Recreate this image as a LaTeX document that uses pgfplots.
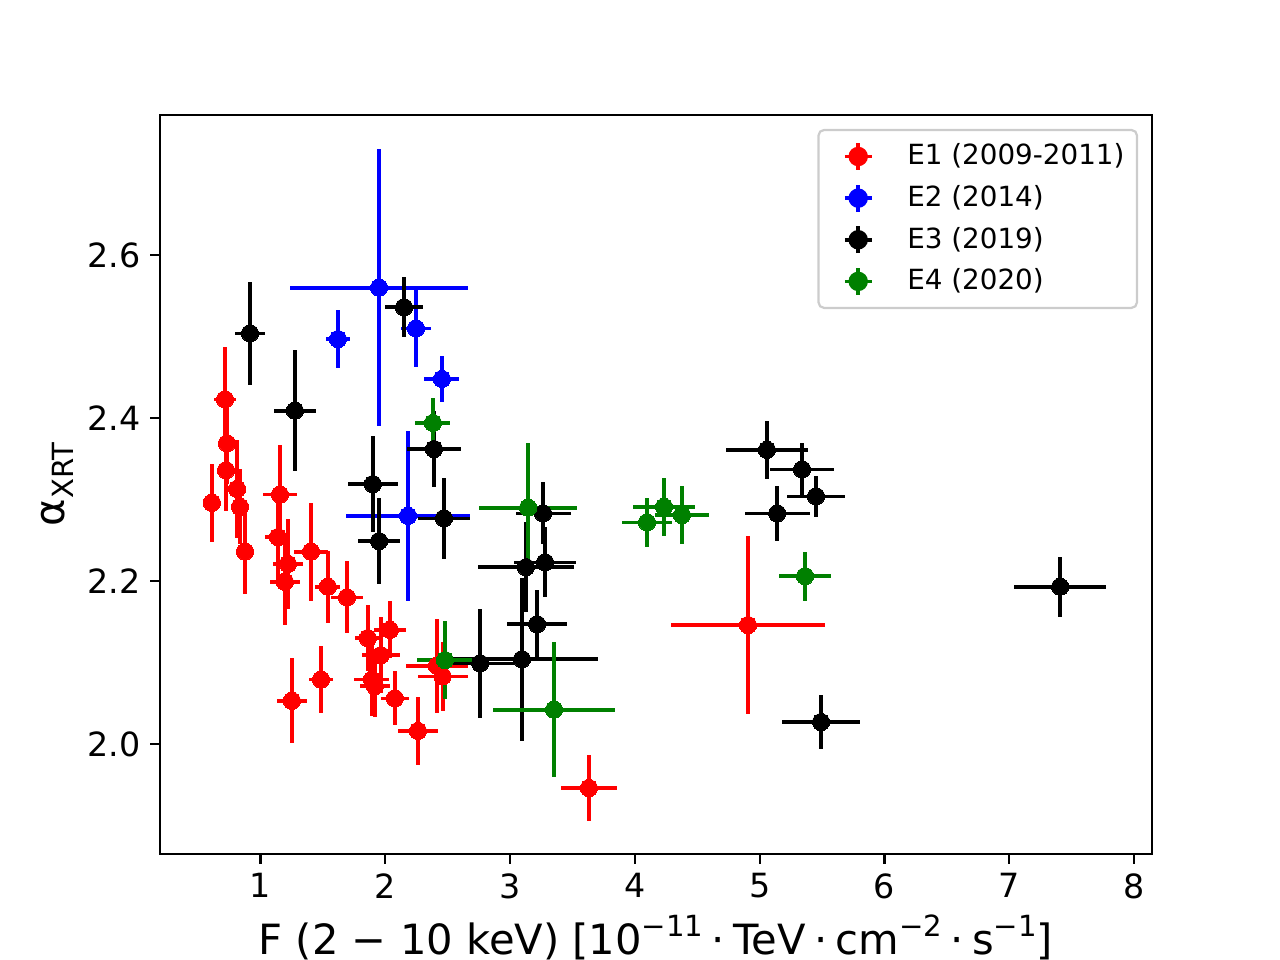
\documentclass[border=0pt]{standalone}
\usepackage{pgfplots}
\pgfplotsset{compat=1.18}
\usepackage{fontspec}
\setmainfont{DejaVu Sans}
\definecolor{mred}{HTML}{FF0000}
\definecolor{mblue}{HTML}{0000FF}
\definecolor{mgreen}{HTML}{008000}
\newcommand\sups[1]{\raisebox{0.42em}{\fontsize{10.5}{11}\selectfont #1}}
\newcommand\subs[1]{\raisebox{-0.22em}{\fontsize{10.5}{11}\selectfont #1}}
\newcommand\md{\hspace{0.2em}·\hspace{0.2em}}
\pgfplotsset{
  errleg/.style={legend image code/.code={
    \path (-11.4pt,0) (15.3pt,0);
    \draw[#1, line width=1.3pt] (0,-0.17cm)--(0,0.17cm) (-0.17cm,0)--(0.17cm,0);
    \fill[#1] (0,0) circle (3.1pt);}},
  eb/.style={only marks, mark=*, mark size=3.1pt, color=#1,
    mark options={fill=#1, draw=#1, line width=0pt},
    error bars/x dir=both, error bars/x explicit, error bars/y dir=both, error bars/y explicit,
    error bars/error mark=none, error bars/error bar style={line width=1.3pt, color=#1}},
}
\pgfplotstableread{
x y ex ey
0.716 2.423 0.09 0.064
0.732 2.369 0.07 0.05
0.724 2.336 0.07 0.05
0.812 2.313 0.07 0.06
0.611 2.296 0.05 0.048
0.836 2.291 0.06 0.046
0.876 2.236 0.07 0.052
1.156 2.306 0.136 0.061
1.14 2.254 0.10 0.06
1.22 2.221 0.12 0.055
1.196 2.199 0.12 0.053
1.405 2.236 0.14 0.06
1.54 2.193 0.10 0.044
1.693 2.18 0.13 0.044
1.86 2.13 0.10 0.04
2.037 2.14 0.13 0.035
1.965 2.109 0.15 0.047
1.893 2.079 0.14 0.045
1.917 2.071 0.12 0.038
2.077 2.056 0.115 0.033
2.262 2.016 0.16 0.042
1.252 2.053 0.12 0.052
1.485 2.079 0.10 0.041
2.414 2.096 0.25 0.058
2.46 2.083 0.20 0.042
4.906 2.146 0.615 0.109
3.632 1.946 0.225 0.04
}\tabEone
\pgfplotstableread{
x y ex ey
1.95 2.56 0.715 0.17
1.621 2.497 0.10 0.036
2.246 2.51 0.124 0.047
2.454 2.448 0.14 0.028
2.182 2.28 0.50 0.104
}\tabEtwo
\pgfplotstableread{
x y ex ey
0.916 2.504 0.124 0.063
1.276 2.409 0.17 0.074
2.15 2.536 0.15 0.037
1.9 2.319 0.2 0.059
1.95 2.249 0.17 0.053
2.39 2.362 0.216 0.047
2.47 2.277 0.21 0.05
3.264 2.283 0.22 0.038
3.127 2.217 0.385 0.055
3.28 2.223 0.25 0.043
3.216 2.147 0.24 0.042
2.76 2.099 0.28 0.067
3.095 2.104 0.61 0.1
5.058 2.361 0.33 0.036
5.339 2.337 0.26 0.033
5.451 2.304 0.23 0.025
5.14 2.283 0.26 0.034
5.491 2.027 0.31 0.033
7.407 2.193 0.37 0.037
}\tabEthree
\pgfplotstableread{
x y ex ey
2.382 2.394 0.14 0.031
3.144 2.29 0.39 0.08
2.478 2.103 0.22 0.048
3.352 2.042 0.485 0.083
4.097 2.272 0.2 0.03
4.233 2.291 0.25 0.036
4.377 2.281 0.22 0.036
5.363 2.206 0.21 0.03
}\tabEfour
\begin{document}
\begin{tikzpicture}
\useasboundingbox (-57.6pt,-38.16pt) rectangle (403.2pt,307.44pt);
\begin{axis}[
  at={(0,0)}, anchor=south west,
  scale only axis, width=357.12pt, height=266.04pt,
  xmin=0.195, xmax=8.143, ymin=1.865, ymax=2.772,
  xtick={1,2,...,8}, ytick={2.0,2.2,2.4,2.6},
  yticklabel style={/pgf/number format/.cd, fixed, fixed zerofill, precision=1},
  /pgf/number format/assume math mode=true,
  tick label style={font=\fontsize{12}{14}\selectfont},
  tick align=outside, xtick pos=bottom, ytick pos=left,
  major tick length=3.5pt,
  tick style={line width=0.8pt, black},
  axis line style={line width=0.8pt},
  xlabel={F (2 − 10 keV) [10\sups{−11}\md TeV\md cm\sups{−2}\md s\sups{−1}]},
  ylabel={α\subs{XRT}},
  label style={font=\fontsize{15}{17}\selectfont},
  xlabel style={yshift=1pt},
  ylabel style={yshift=-2pt},
  legend style={at={(1,1)}, anchor=north east, xshift=-5pt, yshift=-5pt,
    draw=black!20, line width=0.8pt, rounded corners=2pt,
    font=\fontsize{10}{12}\selectfont, row sep=1.9pt,
    inner xsep=2.5pt, inner ysep=3pt},
  legend cell align=left,
]
\addplot[errleg=mred, eb=mred] table[x=x, y=y, x error=ex, y error=ey] {\tabEone};
\addlegendentry{E1 (2009-2011)}
\addplot[errleg=mblue, eb=mblue] table[x=x, y=y, x error=ex, y error=ey] {\tabEtwo};
\addlegendentry{E2 (2014)}
\addplot[errleg=black, eb=black] table[x=x, y=y, x error=ex, y error=ey] {\tabEthree};
\addlegendentry{E3 (2019)}
\addplot[errleg=mgreen, eb=mgreen] table[x=x, y=y, x error=ex, y error=ey] {\tabEfour};
\addlegendentry{E4 (2020)}
\end{axis}
\end{tikzpicture}
\end{document}
